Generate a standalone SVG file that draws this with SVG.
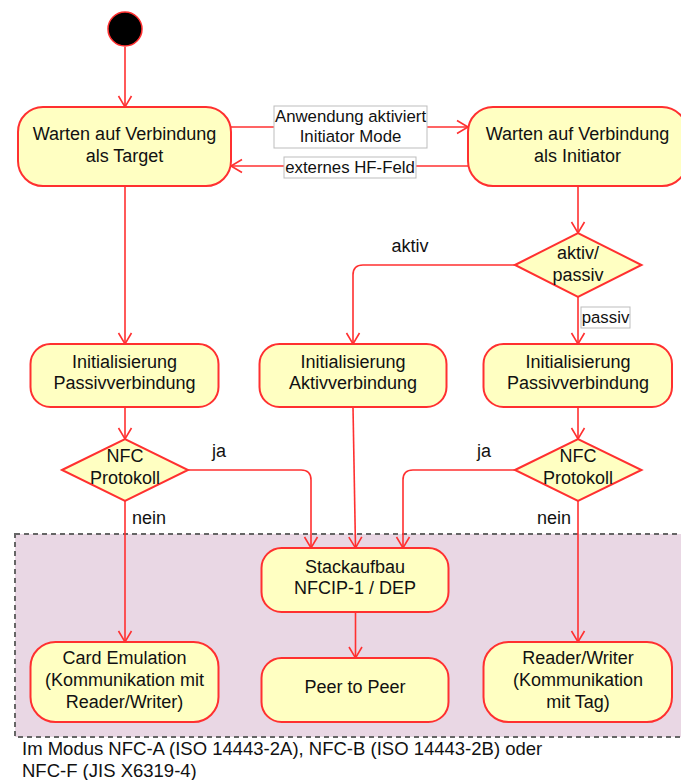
<svg xmlns="http://www.w3.org/2000/svg" width="681" height="780" viewBox="0 0 681 780">
  <style>
    .node { fill: #ffffc2; stroke: #ff3030; stroke-width: 2; }
    .edge { fill: none; stroke: #ff3030; stroke-width: 1.6; }
    .lbl-box { fill: #ffffff; stroke: #bdbdbd; stroke-width: 1; }
    text { font-family: "Liberation Sans", Arial, sans-serif; fill: #111; }
    .t { font-size: 18px; text-anchor: middle; }
    .l { font-size: 16.8px; text-anchor: middle; }
    .g { font-size: 18px; text-anchor: middle; }
    .f { font-size: 18.5px; }
  </style>
  <defs>
    <marker id="arrow" markerUnits="userSpaceOnUse" markerWidth="24" markerHeight="24" refX="0" refY="0" orient="auto" overflow="visible">
      <path d="M-11,-6.5 L0,0 L-11,6.5" fill="none" stroke="#ff3030" stroke-width="1.6"/>
    </marker>
  </defs>

  <!-- protocol region -->
  <rect id="region" x="15" y="534" width="690" height="203" fill="#e9d7e4" stroke="#666" stroke-width="2" stroke-dasharray="5,4"/>

  <!-- connectors -->
  <g id="connectors">
    <line class="edge" x1="125" y1="47" x2="125" y2="107" marker-end="url(#arrow)"/>
    <line class="edge" x1="231" y1="127" x2="468" y2="127" marker-end="url(#arrow)"/>
    <line class="edge" x1="468" y1="166" x2="231" y2="166" marker-end="url(#arrow)"/>
    <line class="edge" x1="125" y1="186" x2="125" y2="344" marker-end="url(#arrow)"/>
    <line class="edge" x1="578" y1="186" x2="578" y2="233" marker-end="url(#arrow)"/>
    <path class="edge" d="M515,265 H363 Q353,265 353,275 V344" marker-end="url(#arrow)"/>
    <line class="edge" x1="578" y1="297" x2="578" y2="344" marker-end="url(#arrow)"/>
    <line class="edge" x1="125" y1="407" x2="125" y2="439" marker-end="url(#arrow)"/>
    <line class="edge" x1="578" y1="407" x2="578" y2="439" marker-end="url(#arrow)"/>
    <path class="edge" d="M188,470 H301 Q311,470 311,480 V548" marker-end="url(#arrow)"/>
    <line class="edge" x1="353" y1="407" x2="355.5" y2="548" marker-end="url(#arrow)"/>
    <path class="edge" d="M515,470 H413 Q403,470 403,480 V548" marker-end="url(#arrow)"/>
    <line class="edge" x1="125" y1="501" x2="125" y2="642" marker-end="url(#arrow)"/>
    <line class="edge" x1="578" y1="501" x2="578" y2="642" marker-end="url(#arrow)"/>
    <line class="edge" x1="355.5" y1="612" x2="355.5" y2="658" marker-end="url(#arrow)"/>

    <!-- edge labels -->
    <rect class="lbl-box" x="274" y="106" width="153" height="42"/>
    <text class="l" x="350.5" y="121.5">Anwendung aktiviert</text>
    <text class="l" x="350.5" y="141.5">Initiator Mode</text>
    <rect class="lbl-box" x="284" y="157" width="132" height="21"/>
    <text class="l" x="350" y="173">externes HF-Feld</text>
    <text class="g" x="410" y="252">aktiv</text>
    <rect class="lbl-box" x="581" y="307" width="49" height="21"/>
    <text class="l" x="605.5" y="323">passiv</text>
    <text class="g" x="219" y="457">ja</text>
    <text class="g" x="484" y="457">ja</text>
    <text class="g" x="149" y="524">nein</text>
    <text class="g" x="554" y="524">nein</text>
  </g>

  <!-- nodes -->
  <g id="start">
    <circle cx="125" cy="29" r="17" fill="#000" stroke="#ff3030" stroke-width="1.5"/>
  </g>
  <g id="wait-target">
    <rect class="node" x="18" y="107" width="213" height="79" rx="25"/>
    <text class="t" x="124.5" y="140">Warten auf Verbindung</text>
    <text class="t" x="124.5" y="162">als Target</text>
  </g>
  <g id="wait-initiator">
    <rect class="node" x="468" y="107" width="219" height="79" rx="25"/>
    <text class="t" x="577.5" y="140">Warten auf Verbindung</text>
    <text class="t" x="577.5" y="162">als Initiator</text>
  </g>
  <g id="decide-mode">
    <polygon class="node" points="515,265 578,233 641.5,265 578,297"/>
    <text class="t" x="578" y="259">aktiv/</text>
    <text class="t" x="578" y="281">passiv</text>
  </g>
  <g id="init-passive-left">
    <rect class="node" x="30.5" y="344" width="188" height="63" rx="20"/>
    <text class="t" x="124.5" y="368">Initialisierung</text>
    <text class="t" x="124.5" y="389">Passivverbindung</text>
  </g>
  <g id="init-active">
    <rect class="node" x="259.5" y="344" width="187" height="63" rx="20"/>
    <text class="t" x="353" y="368">Initialisierung</text>
    <text class="t" x="353" y="389">Aktivverbindung</text>
  </g>
  <g id="init-passive-right">
    <rect class="node" x="483.5" y="344" width="188.5" height="63" rx="20"/>
    <text class="t" x="578" y="368">Initialisierung</text>
    <text class="t" x="578" y="389">Passivverbindung</text>
  </g>
  <g id="nfc-left">
    <polygon class="node" points="62,470 125,439 188,470 125,501"/>
    <text class="t" x="125" y="462">NFC</text>
    <text class="t" x="125" y="484">Protokoll</text>
  </g>
  <g id="nfc-right">
    <polygon class="node" points="515,470 578,439 641.5,470 578,501"/>
    <text class="t" x="578" y="462">NFC</text>
    <text class="t" x="578" y="484">Protokoll</text>
  </g>
  <g id="stack">
    <rect class="node" x="261.5" y="548" width="187" height="64" rx="20"/>
    <text class="t" x="355" y="573">Stackaufbau</text>
    <text class="t" x="355" y="594">NFCIP-1 / DEP</text>
  </g>
  <g id="card-emulation">
    <rect class="node" x="30.5" y="642" width="188" height="80" rx="25"/>
    <text class="t" x="124.5" y="664">Card Emulation</text>
    <text class="t" x="124.5" y="686">(Kommunikation mit</text>
    <text class="t" x="124.5" y="708">Reader/Writer)</text>
  </g>
  <g id="peer-to-peer">
    <rect class="node" x="261.5" y="658" width="187" height="64" rx="20"/>
    <text class="t" x="355" y="693">Peer to Peer</text>
  </g>
  <g id="reader-writer">
    <rect class="node" x="483.5" y="642" width="188.5" height="80" rx="25"/>
    <text class="t" x="578" y="664">Reader/Writer</text>
    <text class="t" x="578" y="686">(Kommunikation</text>
    <text class="t" x="578" y="708">mit Tag)</text>
  </g>

  <!-- footnote -->
  <text class="f" x="22" y="755">Im Modus NFC-A (ISO 14443-2A), NFC-B (ISO 14443-2B) oder</text>
  <text class="f" x="22" y="777">NFC-F (JIS X6319-4)</text>
</svg>
